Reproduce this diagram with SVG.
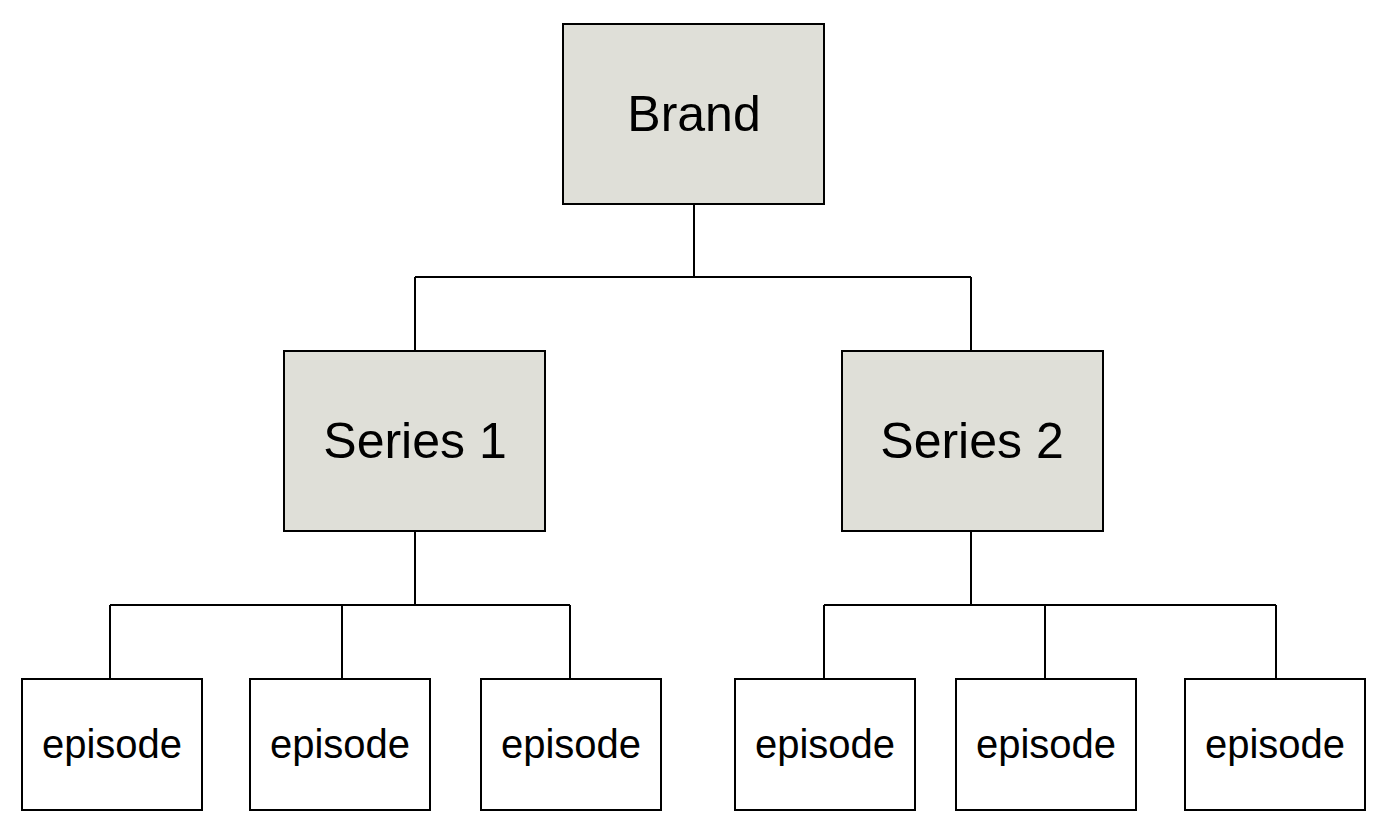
<svg xmlns="http://www.w3.org/2000/svg" width="1386" height="834" viewBox="0 0 1386 834">
<style>
.big{fill:#dfdfd8;stroke:#000;stroke-width:2}
.ep{fill:#fff;stroke:#000;stroke-width:2}
.t{font-family:"Liberation Sans",Arial,sans-serif;fill:#000;text-anchor:middle}
.tb{font-size:50px}
.te{font-size:40px}
.c{fill:none;stroke:#000;stroke-width:2}
</style>
<rect width="1386" height="834" fill="#fff"/>
<g id="connectors">
<path class="c" d="M694 204V277M415 277H971M415 277V351M971 277V351"/>
<path class="c" d="M415 532V605M110 605H570M110 605V678M342 605V678M570 605V678"/>
<path class="c" d="M971 532V605M824 605H1276M824 605V678M1045 605V678M1276 605V678"/>
</g>
<g id="brand"><rect class="big" x="563" y="24" width="261" height="180"/><text class="t tb" x="694" y="131">Brand</text></g>
<g id="series1"><rect class="big" x="284" y="351" width="261" height="180"/><text class="t tb" x="415" y="458">Series 1</text></g>
<g id="series2"><rect class="big" x="842" y="351" width="261" height="180"/><text class="t tb" x="972" y="458">Series 2</text></g>
<g id="ep1"><rect class="ep" x="22" y="679" width="180" height="131"/><text class="t te" x="112" y="758">episode</text></g>
<g id="ep2"><rect class="ep" x="250" y="679" width="180" height="131"/><text class="t te" x="340" y="758">episode</text></g>
<g id="ep3"><rect class="ep" x="481" y="679" width="180" height="131"/><text class="t te" x="571" y="758">episode</text></g>
<g id="ep4"><rect class="ep" x="735" y="679" width="180" height="131"/><text class="t te" x="825" y="758">episode</text></g>
<g id="ep5"><rect class="ep" x="956" y="679" width="180" height="131"/><text class="t te" x="1046" y="758">episode</text></g>
<g id="ep6"><rect class="ep" x="1185" y="679" width="180" height="131"/><text class="t te" x="1275" y="758">episode</text></g>
</svg>
